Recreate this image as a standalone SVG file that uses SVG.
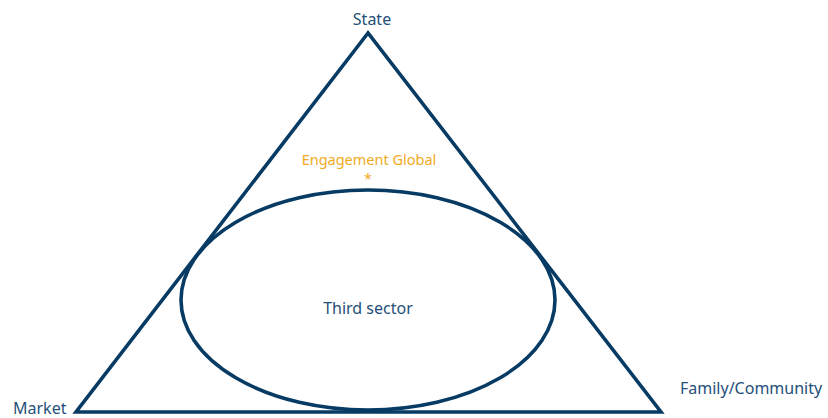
<svg xmlns="http://www.w3.org/2000/svg" width="828" height="418" viewBox="0 0 828 418">
<style>
.shape{fill:none;stroke:#073b63;stroke-width:3.6;stroke-linejoin:miter}
.lbl{font-family:"Noto Sans","Open Sans","Liberation Sans",sans-serif;font-size:16px;fill:#24507a}
.eg{font-family:"Noto Sans","Open Sans","Liberation Sans",sans-serif;font-size:14.5px;fill:#f0ab1e}
</style>
<rect width="828" height="418" fill="#ffffff"/>
<g id="connectors"></g>
<g id="triangle">
<polygon class="shape" points="368,33 76,412 661,412"/>
</g>
<g id="third-sector">
<ellipse class="shape" cx="368" cy="300" rx="187" ry="110"/>
<text class="lbl" x="368" y="314" text-anchor="middle">Third sector</text>
</g>
<g id="state">
<text class="lbl" x="372" y="25" text-anchor="middle">State</text>
</g>
<g id="market">
<text class="lbl" x="13" y="414">Market</text>
</g>
<g id="family">
<text class="lbl" x="680" y="394">Family/Community</text>
</g>
<g id="engagement-global">
<text class="eg" x="369" y="165" text-anchor="middle">Engagement Global</text>
<text class="eg" x="368" y="184" text-anchor="middle">*</text>
</g>
</svg>
